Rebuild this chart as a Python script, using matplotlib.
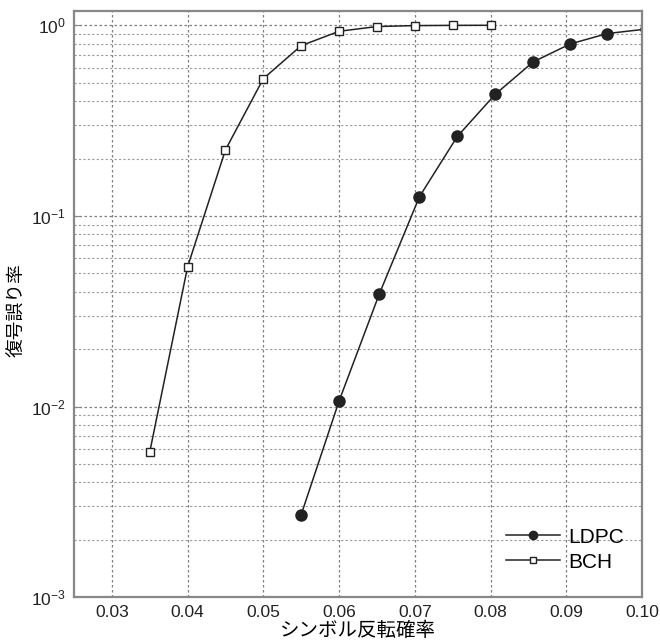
import math

import matplotlib
matplotlib.use("Agg")
import matplotlib.pyplot as plt
from matplotlib.ticker import LogLocator, FixedLocator, FuncFormatter

plt.rcParams['font.family'] = ['Liberation Sans', 'Noto Sans CJK JP', 'DejaVu Sans']
plt.rcParams['mathtext.default'] = 'regular'
plt.rcParams['axes.unicode_minus'] = False

# data
ldpc_x = [0.055, 0.060, 0.0653, 0.0706, 0.0756, 0.0806, 0.0856, 0.0905, 0.0954, 0.1005]
ldpc_y = [0.00271, 0.0107, 0.0389, 0.126, 0.261, 0.434, 0.642, 0.798, 0.905, 0.955]
bch_x = [0.035, 0.040, 0.045, 0.050, 0.055, 0.060, 0.065, 0.070, 0.075, 0.080]
bch_y = [0.00575, 0.054, 0.222, 0.525, 0.782, 0.93, 0.985, 0.996, 0.999, 1.0]
x_ticks = [0.03, 0.04, 0.05, 0.06, 0.07, 0.08, 0.09, 0.10]
x_label = "シンボル反転確率"
y_label = "復号誤り率"

fig = plt.figure(figsize=(6.6, 6.4), dpi=100)
ax = fig.add_axes([0.112, 0.067, 0.861, 0.916])

line_col = "#222222"
ax.semilogy(ldpc_x, ldpc_y, "-o", color=line_col, lw=1.1, ms=8,
            mfc=line_col, mec=line_col, label="LDPC")
ax.semilogy(bch_x, bch_y, "-s", color=line_col, lw=1.1, ms=6,
            mfc="white", mec=line_col, mew=1.0, label="BCH")

ax.set_xlim(0.025, 0.10)
ax.set_ylim(1e-3, 1.19)
ax.xaxis.set_major_locator(FixedLocator(x_ticks))
ax.xaxis.set_major_formatter(FuncFormatter(lambda v, p: f"{v:.2f}"))
ax.yaxis.set_major_locator(LogLocator(base=10, numticks=10))
ax.yaxis.set_minor_locator(LogLocator(base=10, subs=range(2, 10), numticks=20))
ax.yaxis.set_major_formatter(
    FuncFormatter(lambda v, p: f"$10^{{{int(round(math.log10(v)))}}}$"))

ax.grid(True, which="major", axis="both", ls=(0, (2, 2)), color="#7f7f7f", lw=0.9)
ax.grid(True, which="minor", axis="y", ls=(0, (2, 2)), color="#9a9a9a", lw=0.8)

for s in ax.spines.values():
    s.set_color("#888888")
    s.set_linewidth(1.6)
ax.tick_params(which="both", direction="in", length=0, labelsize=12.5,
               colors="#222222", pad=6)
ax.tick_params(axis="y", which="major", length=4, color="#888888")

cjk = ['Noto Sans CJK JP', 'DejaVu Sans']
ax.set_xlabel(x_label, fontsize=14, labelpad=0, family=cjk)
ax.set_ylabel(y_label, fontsize=13.5, family=cjk)
ax.yaxis.set_label_coords(-0.081, 0.49)

ax.legend(loc="lower right", bbox_to_anchor=(1.0, 0.013), frameon=False,
          fontsize=15, handlelength=2.6, handletextpad=0.4, borderaxespad=0.45,
          labelspacing=0.3, markerscale=0.75)

fig.savefig("out.png", dpi=100)
